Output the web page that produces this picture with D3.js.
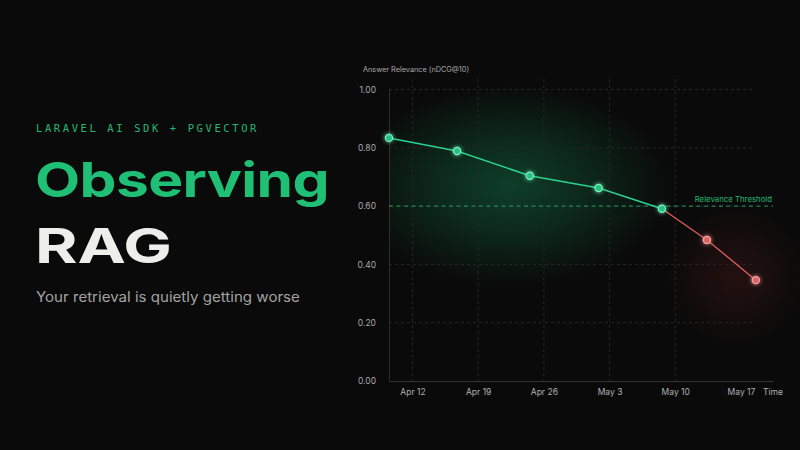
<!DOCTYPE html>
<html>
<head>
<meta charset="utf-8">
<script src="https://cdn.jsdelivr.net/npm/d3@7"></script>
<style>
  html, body { margin: 0; padding: 0; background: #0a0a0a; }
  svg { display: block; }
</style>
</head>
<body>
<div id="chart"></div>
<script>
(function() {

  // data
  var dates = ["2024-04-09T12:00", "2024-04-16T18:00", "2024-04-24T12:00", "2024-05-01T20:00",
               "2024-05-08T14:00", "2024-05-13T09:00", "2024-05-18T14:00"];
  var relevance = [0.834, 0.789, 0.704, 0.662, 0.591, 0.484, 0.346];
  var threshold = 0.60;
  var yTicks = [0, 0.2, 0.4, 0.6, 0.8, 1.0];
  var xTickDates = ["2024-04-12", "2024-04-19", "2024-04-26", "2024-05-03", "2024-05-10", "2024-05-17"];
  var xGridDates = ["2024-04-12", "2024-04-19", "2024-04-26", "2024-05-03", "2024-05-10"];
  var domainDates = ["2024-04-09T12:00", "2024-05-20T10:00"];

  var parse = d3.isoParse;
  var data = dates.map(function(d, i) { return { date: parse(d), value: relevance[i] }; });

  var width = 800, height = 450;
  var left = 389, right = 773, top = 89.5, bottom = 381;

  var green = "#2bd28c", red = "#e35d5d";
  var sans = "Inter, 'Noto Sans', sans-serif";

  var svg = d3.select("#chart").append("svg")
      .attr("width", width)
      .attr("height", height);

  svg.append("rect").attr("width", width).attr("height", height).attr("fill", "#0a0a0a");

  var defs = svg.append("defs");

  function radial(id, color, peak) {
    var g = defs.append("radialGradient").attr("id", id);
    g.append("stop").attr("offset", "0%").attr("stop-color", color).attr("stop-opacity", peak);
    g.append("stop").attr("offset", "45%").attr("stop-color", color).attr("stop-opacity", peak * 0.6);
    g.append("stop").attr("offset", "100%").attr("stop-color", color).attr("stop-opacity", 0);
  }
  radial("gglow", "#16a866", 0.33);
  radial("rglow", "#b83434", 0.15);

  var glow = defs.append("filter").attr("id", "dotglow")
      .attr("x", "-100%").attr("y", "-100%").attr("width", "300%").attr("height", "300%");
  glow.append("feGaussianBlur").attr("in", "SourceGraphic").attr("stdDeviation", 2).attr("result", "b");
  var merge = glow.append("feMerge");
  merge.append("feMergeNode").attr("in", "b");
  merge.append("feMergeNode").attr("in", "SourceGraphic");

  defs.append("clipPath").attr("id", "plotclip")
    .append("rect").attr("x", left).attr("y", top - 12).attr("width", width - left).attr("height", bottom - top + 12);

  var x = d3.scaleTime()
      .domain(domainDates.map(parse))
      .range([left, right]);

  var y = d3.scaleLinear()
      .domain([0, 1])
      .range([bottom, top]);

  // stretch a text to the width seen in the picture
  function fitWidth(sel, target) {
    var w = sel.node().getComputedTextLength();
    var x0 = +sel.attr("x");
    sel.attr("transform", "translate(" + x0 + ",0) scale(" + (target / w) + ",1) translate(" + (-x0) + ",0)");
  }

  // ---- left side text
  svg.append("text")
      .attr("x", 36).attr("y", 132)
      .attr("fill", "#22b873")
      .style("font-family", "'DejaVu Sans Mono', 'Liberation Mono', monospace")
      .style("font-size", "10.5px")
      .style("letter-spacing", "2.6px")
      .text("LARAVEL AI SDK + PGVECTOR");

  svg.append("text")
      .attr("x", 35).attr("y", 197)
      .attr("fill", "#1fbf75")
      .style("font-family", sans)
      .style("font-weight", 700)
      .style("font-size", "48px")
      .style("letter-spacing", "-0.5px")
      .text("Observing")
      .call(fitWidth, 294);

  svg.append("text")
      .attr("x", 35).attr("y", 263)
      .attr("fill", "#eeeeea")
      .style("font-family", sans)
      .style("font-weight", 700)
      .style("font-size", "48px")
      .style("letter-spacing", "0px")
      .text("RAG")
      .call(fitWidth, 137);

  svg.append("text")
      .attr("x", 36).attr("y", 302)
      .attr("fill", "#a3a3a3")
      .style("font-family", sans)
      .style("font-size", "14px")
      .text("Your retrieval is quietly getting worse")
      .call(fitWidth, 264);

  // ---- glow behind the plot
  var glowG = svg.append("g").attr("clip-path", "url(#plotclip)");
  glowG.append("ellipse")
      .attr("cx", x(data[2].date) - 20).attr("cy", y(0.67))
      .attr("rx", 160).attr("ry", 100)
      .attr("fill", "url(#gglow)");
  glowG.append("ellipse")
      .attr("cx", x(data[6].date) - 20).attr("cy", y(0.36))
      .attr("rx", 70).attr("ry", 70)
      .attr("fill", "url(#rglow)");

  // ---- grid
  var gridColor = "#262626";
  svg.append("g").selectAll("line")
      .data(yTicks.filter(function(d) { return d > 0; }))
    .join("line")
      .attr("x1", left).attr("x2", 752)
      .attr("y1", function(d) { return y(d); })
      .attr("y2", function(d) { return y(d); })
      .attr("stroke", gridColor)
      .attr("stroke-dasharray", "3,3");

  svg.append("g").selectAll("line")
      .data(xGridDates.map(parse))
    .join("line")
      .attr("x1", function(d) { return x(d); })
      .attr("x2", function(d) { return x(d); })
      .attr("y1", 79).attr("y2", bottom)
      .attr("stroke", gridColor)
      .attr("stroke-dasharray", "3,3");

  // ---- axes
  var yAxis = svg.append("g")
      .attr("transform", "translate(" + left + ",0)")
      .call(d3.axisLeft(y).tickValues(yTicks).tickFormat(d3.format(".2f")).tickSize(0).tickPadding(13));
  yAxis.select(".domain").attr("stroke", "#2e2e2e");
  yAxis.selectAll("text")
      .attr("fill", "#a8a8a8")
      .style("font-family", sans)
      .style("font-size", "8.5px");

  var xAxis = svg.append("g")
      .attr("transform", "translate(0," + bottom + ")")
      .call(d3.axisBottom(x).tickValues(xTickDates.map(parse)).tickFormat(d3.timeFormat("%b %-d")).tickSize(0).tickPadding(8));
  xAxis.select(".domain").attr("stroke", "#333333").attr("stroke-width", 1.2);
  xAxis.selectAll("text")
      .attr("fill", "#b0b0b0")
      .style("font-family", sans)
      .style("font-size", "8.5px");

  svg.append("text")
      .attr("x", right).attr("y", 395)
      .attr("text-anchor", "middle")
      .attr("fill", "#b0b0b0")
      .style("font-family", sans)
      .style("font-size", "8.5px")
      .text("Time");

  svg.append("text")
      .attr("x", 363).attr("y", 72)
      .attr("fill", "#a8a8a8")
      .style("font-family", sans)
      .style("font-size", "7.3px")
      .text("Answer Relevance (nDCG@10)");

  // ---- threshold
  svg.append("line")
      .attr("x1", left).attr("x2", right)
      .attr("y1", y(threshold)).attr("y2", y(threshold))
      .attr("stroke", "#22b873")
      .attr("stroke-opacity", 0.85)
      .attr("stroke-dasharray", "4,3.5");

  svg.append("text")
      .attr("x", right - 1).attr("y", y(threshold) - 4)
      .attr("text-anchor", "end")
      .attr("fill", "#22b873")
      .style("font-family", sans)
      .style("font-size", "7.8px")
      .text("Relevance Threshold");

  // ---- line
  var split = 4;
  var line = d3.line()
      .x(function(d) { return x(d.date); })
      .y(function(d) { return y(d.value); });

  svg.append("path")
      .datum(data.slice(0, split + 1))
      .attr("d", line)
      .attr("fill", "none")
      .attr("stroke", green)
      .attr("stroke-width", 1.5);

  svg.append("path")
      .datum(data.slice(split))
      .attr("d", line)
      .attr("fill", "none")
      .attr("stroke", red)
      .attr("stroke-width", 1.3);

  svg.append("g").selectAll("circle")
      .data(data)
    .join("circle")
      .attr("cx", function(d) { return x(d.date); })
      .attr("cy", function(d) { return y(d.value); })
      .attr("r", 3.6)
      .attr("fill", function(d, i) { return i <= split ? "#27c283" : "#e06464"; })
      .attr("stroke", function(d, i) { return i <= split ? "#7ff0bd" : "#f6a5a5"; })
      .attr("stroke-width", 1.2)
      .attr("filter", "url(#dotglow)");

})()
</script>
</body>
</html>
